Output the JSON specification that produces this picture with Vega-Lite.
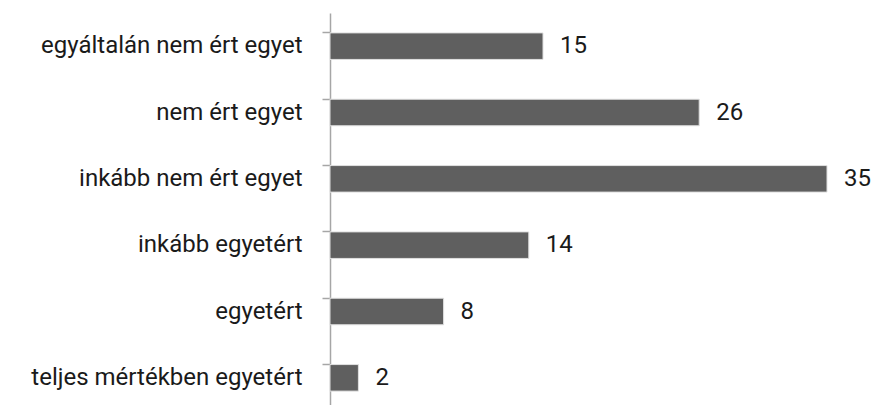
{
  "$schema": "https://vega.github.io/schema/vega-lite/v6.json",
  "autosize": "none",
  "padding": {"left": 330, "top": 13, "right": 46, "bottom": 0},
  "width": 497,
  "height": 398,
  "background": "white",
  "config": {"view": {"stroke": null}, "font": "Roboto"},
  "data": {"values": [
    {"kat": "egyáltalán nem ért egyet", "ertek": 15},
    {"kat": "nem ért egyet", "ertek": 26},
    {"kat": "inkább nem ért egyet", "ertek": 35},
    {"kat": "inkább egyetért", "ertek": 14},
    {"kat": "egyetért", "ertek": 8},
    {"kat": "teljes mértékben egyetért", "ertek": 2}
  ]},
  "encoding": {
    "y": {"field": "kat", "type": "nominal", "sort": null, "title": null,
      "scale": {"paddingInner": 0.6, "paddingOuter": 0.3},
      "axis": {"bandPosition": 0, "domainColor": "#a6a6a6", "domainWidth": 1.5, "tickColor": "#a6a6a6", "tickWidth": 1.5, "tickSize": 8, "labelFontSize": 24, "labelColor": "#1a1a1a", "labelPadding": 20, "labelLimit": 0, "labelFont": "Roboto", "labelFontWeight": 400}},
    "x": {"field": "ertek", "type": "quantitative", "title": null, "scale": {"domain": [0, 35], "nice": false}, "axis": null}
  },
  "layer": [
    {"mark": {"type": "bar", "color": "#5f5f5f", "stroke": "#e0e0e0", "strokeWidth": 1}},
    {"mark": {"type": "text", "align": "left", "dx": 17, "fontSize": 24, "color": "#1a1a1a", "font": "Roboto", "fontWeight": 400}, "encoding": {"text": {"field": "ertek"}}}
  ]
}
